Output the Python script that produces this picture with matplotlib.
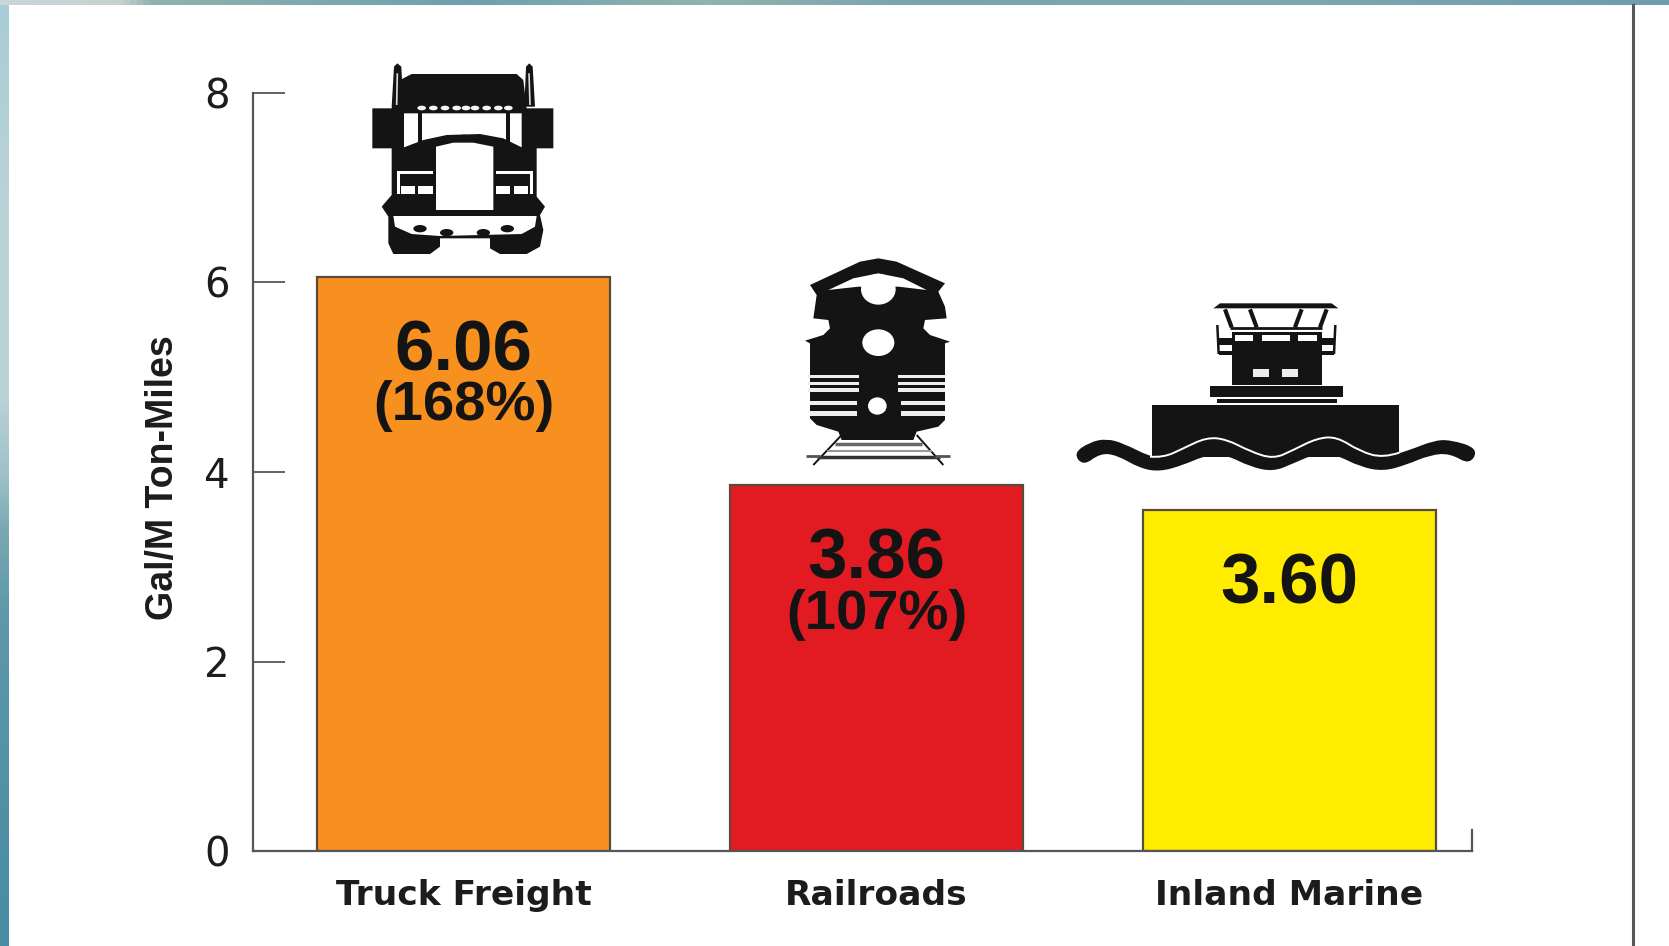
import numpy as np
import matplotlib
matplotlib.use('Agg')
import matplotlib.pyplot as plt
from matplotlib.patches import Polygon, Rectangle, Ellipse, PathPatch
from matplotlib.path import Path
from matplotlib.colors import LinearSegmentedColormap

categories = ['Truck Freight', 'Railroads', 'Inland Marine']
values = [6.06, 3.86, 3.60]
value_labels = ['6.06', '3.86', '3.60']
percent_labels = ['(168%)', '(107%)', '']
bar_colors = ['#F7901E', '#E21B23', '#FFEC00']
yticks = [0, 2, 4, 6, 8]

W, H = 1669, 946
DARK = '#141414'
AXIS = '#55555c'

fig = plt.figure(figsize=(W / 100, H / 100), dpi=100, facecolor='white')

# main axes, placed on the pixel position of the original axis lines
ax = fig.add_axes([253 / W, 1 - 851 / H, (1472 - 253) / W, (851 - 93) / H])
ax.bar(range(3), values, width=0.71, color=bar_colors, edgecolor='#5a4a3a', linewidth=1.6, zorder=2)
ax.set_xlim(-0.51, 2.442)
ax.set_ylim(0, 8)
ax.patch.set_alpha(0)
for s in ['top', 'right']:
    ax.spines[s].set_visible(False)
for s in ['left', 'bottom']:
    ax.spines[s].set_color(AXIS)
    ax.spines[s].set_linewidth(1.6)
    ax.spines[s].set_zorder(3)
ax.set_yticks(yticks)
ax.tick_params(axis='y', direction='in', length=23, width=1.3, color=AXIS, pad=17,
               labelsize=29, labelcolor='#1c1c1c')
ax.set_xticks(range(3))
ax.set_xticklabels(categories, fontsize=24.8, fontweight='bold', color='#1c1c1c')
ax.tick_params(axis='x', length=0, pad=20)
ax.set_ylabel('Gal/M Ton-Miles', fontsize=27, fontweight='bold', family='Liberation Sans',
              color='#1c1c1c', labelpad=0)
ax.yaxis.set_label_coords((181 - 253) / (1472 - 253), 0.493)

for i in range(3):
    ax.text(i + 0.0, values[i] - 0.45, value_labels[i], ha='center', va='top', fontsize=51,
            fontweight='bold', family='Liberation Sans', color=DARK, zorder=4)
    if percent_labels[i]:
        ax.text(i, values[i] - 1.09, percent_labels[i], ha='center', va='top', fontsize=40.5,
                fontweight='bold', family='Liberation Sans', color=DARK, zorder=4)

# overlay in image pixels for the frame and the vehicle icons
ov = fig.add_axes([0, 0, 1, 1], zorder=5)
ov.set_xlim(0, W)
ov.set_ylim(H, 0)
ov.axis('off')


def strip(extent, colors, vertical=True):
    cmap = LinearSegmentedColormap.from_list('s', colors)
    g = np.linspace(0, 1, 256)
    g = g[:, None] if vertical else g[None, :]
    ov.imshow(g, cmap=cmap, extent=extent, aspect='auto', zorder=1)


strip((0, 8, H, 0), [(0, '#a8cdd4'), (0.25, '#bcd4d8'), (0.42, '#bad2d6'), (0.5, '#9fc2c8'),
                     (0.56, '#7aa9b4'), (0.65, '#5e98aa'), (1, '#478ca3')])
strip((0, W, 5, 0), [(0, '#c8d6d8'), (0.07, '#c4d2d2'), (0.09, '#8fb3ae'), (0.28, '#6f9fae'),
                     (0.42, '#90b4ae'), (0.55, '#7aa3ae'), (0.75, '#7fa8ae'), (1, '#6f9bae')], vertical=False)
ov.set_xlim(0, W)
ov.set_ylim(H, 0)
# right end tick of the axis and the rule at the right
ov.plot([1472, 1472], [851, 830], color=AXIS, lw=1.6, zorder=2)
ov.plot([1633, 1633], [5, H], color='#55585c', lw=2.2, zorder=2)


def icon(ox, oy):
    # returns helpers working in the 3x zoom coordinates of one icon
    def pts(p):
        return [(ox + x / 3, oy + y / 3) for x, y in p]

    def poly(p, c=DARK, z=6):
        ov.add_patch(Polygon(pts(p), closed=True, fc=c, ec='none', zorder=z))

    def rect(x0, y0, x1, y1, c='white', z=7):
        ov.add_patch(Rectangle((ox + x0 / 3, oy + y0 / 3), (x1 - x0) / 3, (y1 - y0) / 3, fc=c, ec='none', zorder=z))

    def ell(x, y, rx, ry, c='white', z=7):
        ov.add_patch(Ellipse((ox + x / 3, oy + y / 3), 2 * rx / 3, 2 * ry / 3, fc=c, ec='none', zorder=z))

    def line(p, c=DARK, lw=1.5, z=7):
        q = np.array(pts(p))
        ov.plot(q[:, 0], q[:, 1], color=c, lw=lw, zorder=z, solid_capstyle='butt')

    def smooth(p, c=DARK, z=7, closed=True, lw=1.4):
        q = np.array(pts(p))
        if closed:
            mids = (q + np.roll(q, -1, axis=0)) / 2
            verts = [mids[-1]]
            codes = [Path.MOVETO]
            for a, m in zip(q, mids):
                verts += [a, m]
                codes += [Path.CURVE3, Path.CURVE3]
            ov.add_patch(PathPatch(Path(verts, codes), fc=c, ec='none', zorder=z))
        else:
            verts = [q[0]]
            codes = [Path.MOVETO]
            for i in range(1, len(q) - 1):
                end = q[-1] if i == len(q) - 2 else (q[i] + q[i + 1]) / 2
                verts += [q[i], end]
                codes += [Path.CURVE3, Path.CURVE3]
            ov.add_patch(PathPatch(Path(verts, codes), fc='none', ec=c, lw=lw, zorder=z))

    return poly, rect, ell, line, smooth


# truck
poly, rect, ell, line, smooth = icon(340, 50)
poly([(190, 85), (215, 72), (530, 72), (550, 90), (560, 175), (640, 175), (640, 295), (590, 295), (590, 440),
      (615, 470), (600, 495), (610, 540), (600, 590), (560, 612), (480, 612), (450, 595), (450, 565), (300, 565),
      (300, 590), (270, 612), (160, 612), (145, 580), (145, 500), (125, 470), (155, 435), (155, 295), (97, 295),
      (97, 175), (155, 175), (165, 100)])
poly([(155, 170), (162, 50), (172, 40), (184, 50), (190, 170)])
poly([(553, 170), (558, 50), (568, 40), (578, 50), (585, 170)])
line([(172, 70), (170, 165)], c='#dddddd', lw=1.2)
line([(567, 70), (570, 165)], c='#dddddd', lw=1.2)
poly([(192, 190), (545, 190), (545, 292), (490, 265), (420, 252), (320, 255), (250, 270), (192, 292)], c='white', z=7)
rect(233, 190, 246, 275, c=DARK, z=8)
rect(498, 190, 510, 275, c=DARK, z=8)
for x in [245, 280, 315, 350, 378, 405, 440, 475, 505]:
    ell(x, 174, 13, 7, c='#f4f4f4')
ell(372, 268, 22, 14, c=DARK, z=8)
poly([(288, 290), (340, 278), (400, 278), (460, 290), (460, 480), (288, 480)], c='white', z=8)
rect(170, 362, 280, 372)
rect(170, 362, 179, 432)
rect(182, 408, 226, 432)
rect(234, 408, 278, 432)
rect(468, 362, 578, 372)
rect(569, 362, 578, 432)
rect(468, 408, 511, 432)
rect(521, 408, 565, 432)
poly([(160, 498), (590, 498), (585, 530), (545, 552), (300, 558), (215, 552), (165, 530)], c='white', z=7)
for x, y in [(240, 536), (320, 548), (430, 548), (502, 536)]:
    ell(x, y, 20, 11, c=DARK, z=8)

# locomotive
poly, rect, ell, line, smooth = icon(770, 240)
poly([(120, 135), (270, 65), (325, 55), (380, 65), (525, 130), (505, 155), (525, 200), (530, 235), (465, 240),
      (460, 265), (480, 285), (540, 305), (525, 310), (525, 540), (505, 560), (440, 575), (430, 600), (215, 600),
      (205, 575), (140, 555), (120, 535), (120, 310), (105, 302), (160, 285), (180, 265), (175, 240), (130, 235),
      (140, 165)])
poly([(175, 150), (250, 115), (325, 100), (400, 115), (470, 150), (385, 140), (265, 140)], c='white', z=7)
ell(325, 148, 52, 46)
ell(325, 308, 48, 40)
ell(322, 498, 28, 26)
for y0, y1 in [(405, 414), (425, 434), (445, 456)]:
    rect(115, y0, 268, y1, c='#eeeeee')
    rect(385, y0, 525, y1, c='#eeeeee')
for y0, y1 in [(482, 496), (513, 527)]:
    rect(120, y0, 262, y1, c='#eeeeee')
    rect(392, y0, 525, y1, c='#eeeeee')
line([(215, 585), (130, 675)], lw=1.4)
line([(440, 585), (520, 675)], lw=1.4)
line([(195, 612), (455, 612)], c='#666666', lw=2.5)
line([(170, 632), (485, 632)], c='#999999', lw=1.5)
line([(140, 650), (510, 650)], c='#333333', lw=2.5)
line([(108, 648), (150, 648)], c='#555555', lw=2)
line([(495, 648), (540, 648)], c='#555555', lw=2)

# towboat and water
poly, rect, ell, line, smooth = icon(1060, 290)
poly([(460, 55), (480, 40), (815, 40), (835, 55)])
line([(495, 58), (515, 112)], lw=3)
line([(570, 58), (590, 112)], lw=3)
line([(725, 58), (705, 112)], lw=3)
line([(800, 58), (780, 112)], lw=3)
line([(510, 115), (785, 115)], lw=2)
rect(515, 125, 785, 285, c=DARK, z=6)
rect(525, 135, 580, 153)
rect(605, 135, 690, 153)
rect(715, 135, 770, 153)
rect(580, 238, 628, 260, c='#eeeeee')
rect(665, 238, 715, 260, c='#eeeeee')
line([(472, 105), (476, 192)], lw=1.8)
line([(826, 105), (822, 192)], lw=1.8)
rect(476, 143, 515, 165, c=DARK, z=6)
rect(785, 143, 822, 165, c=DARK, z=6)
rect(476, 182, 515, 194, c=DARK, z=6)
rect(785, 182, 822, 194, c=DARK, z=6)
rect(450, 287, 848, 322, c=DARK, z=6)
rect(470, 328, 830, 338, c=DARK, z=6)
rect(275, 345, 1018, 500, c=DARK, z=6)
wave_top = [(40, 490), (90, 456), (140, 446), (190, 460), (270, 500), (310, 503), (370, 475), (440, 442), (500, 448),
            (570, 484), (640, 507), (700, 480), (770, 445), (830, 440), (900, 484), (970, 504), (1050, 480),
            (1120, 452), (1170, 449), (1255, 475)]
wave_bot = [(1230, 525), (1170, 490), (1110, 495), (1040, 524), (970, 544), (900, 530), (830, 495), (770, 490),
            (700, 520), (640, 545), (570, 530), (500, 495), (440, 495), (370, 525), (300, 545), (240, 535),
            (170, 495), (120, 490), (70, 528)]
smooth(wave_top + wave_bot)
smooth([p for p in wave_top if 270 <= p[0] <= 970] + [(1018, 488)], c='white', z=8, closed=False)

fig.savefig('out.png', dpi=100)
